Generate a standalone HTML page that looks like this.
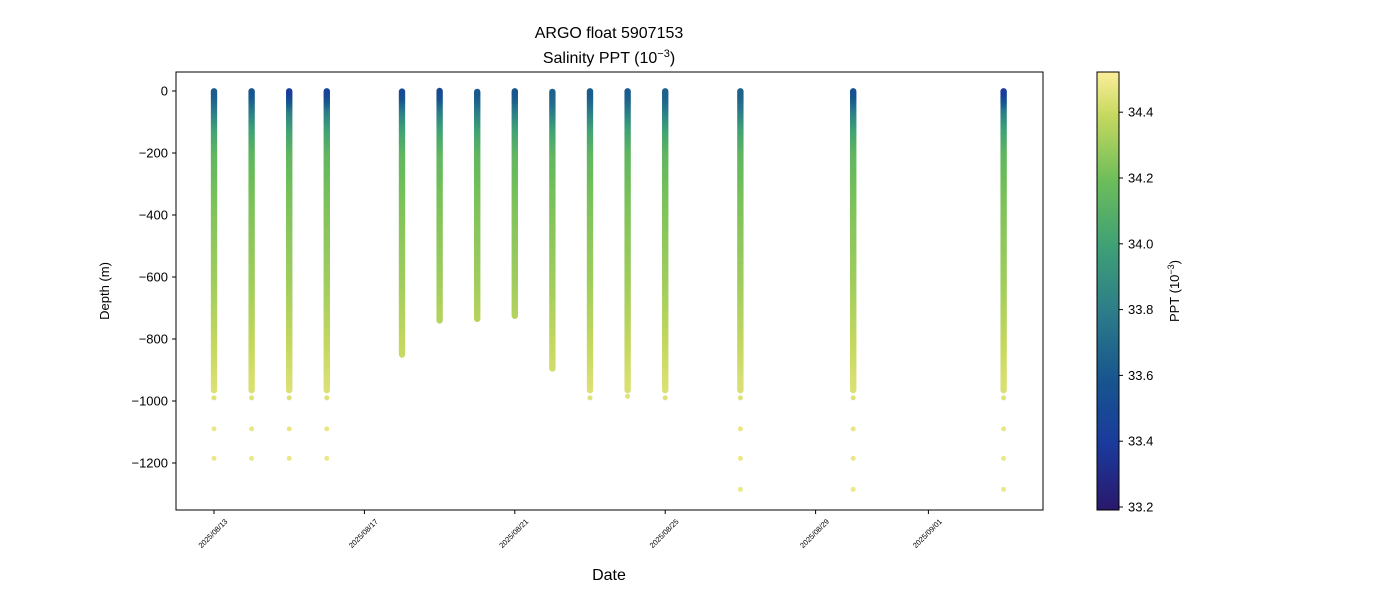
<!DOCTYPE html>
<html><head><meta charset="utf-8"><style>
body{margin:0;background:#fff;font-family:"Liberation Sans",sans-serif}
svg text{font-family:"Liberation Sans",sans-serif}
</style></head><body>
<svg id="chart" width="1400" height="600" xmlns="http://www.w3.org/2000/svg">
<defs><linearGradient id="cb" x1="0" y1="1" x2="0" y2="0">
<stop offset="0" stop-color="#2a186c"/><stop offset="0.15" stop-color="#1a3a9c"/><stop offset="0.3" stop-color="#17568e"/><stop offset="0.45" stop-color="#2c7c89"/><stop offset="0.6" stop-color="#3ea076"/><stop offset="0.75" stop-color="#6cbd5a"/><stop offset="0.9" stop-color="#c5d85f"/><stop offset="1" stop-color="#fdee99"/></linearGradient></defs>
<g id="marks"></g>
<rect x="176" y="72" width="867" height="438" fill="none" stroke="#000" stroke-width="1"/>
<g id="axes"></g>
<text x="609" y="38" font-size="16" text-anchor="middle">ARGO float 5907153</text>
<text x="609" y="63" font-size="16" text-anchor="middle">Salinity PPT (10<tspan dy="-6" font-size="11">−3</tspan><tspan dy="6">)</tspan></text>
<text transform="translate(109,291) rotate(-90)" font-size="13" text-anchor="middle">Depth (m)</text>
<text x="609" y="580" font-size="16" text-anchor="middle">Date</text>
<rect x="1097" y="72" width="22" height="438" fill="url(#cb)" stroke="#000"/>
<g id="cbaxis"></g>
<text transform="translate(1179,291) rotate(-90)" font-size="13" text-anchor="middle">PPT (10<tspan dy="-5" font-size="9">−3</tspan><tspan dy="5">)</tspan></text>
</svg>
<script>
const profileDays=[0,1,2,3,5,6,7,8,9,10,11,12,14,17,21];
const profileMaxDepth=[965,965,965,965,850,740,735,725,895,965,965,965,965,965,965];
const profileSurface=[33.62,33.58,33.4,33.45,33.5,33.5,33.6,33.58,33.65,33.62,33.62,33.65,33.65,33.55,33.4];
const deepPoints=[[990,1090,1185],[990,1090,1185],[990,1090,1185],[990,1090,1185],[],[],[],[],[],[990],[985],[990],[990,1090,1185,1285],[990,1090,1185,1285],[990,1090,1185,1285]];
const refDepth=[0,20,50,80,120,200,300,400,500,600,700,800,900,1000,1100,1200,1300];
const refSal=[33.62,33.65,33.75,33.86,34.0,34.14,34.2,34.24,34.27,34.3,34.34,34.38,34.42,34.45,34.48,34.48,34.48];
const yTicks=[0,-200,-400,-600,-800,-1000,-1200];
const xTickDays=[0,4,8,12,16,19];
const xTickLabels=["2025/08/13","2025/08/17","2025/08/21","2025/08/25","2025/08/29","2025/09/01"];
const cbTicks=[33.2,33.4,33.6,33.8,34.0,34.2,34.4];
const NS="http://www.w3.org/2000/svg";
const X=d=>214+d*37.6, Y=v=>91-v*0.31, CB=v=>507-(v-33.2)*329;
const stops=[[0,[42,24,108]],[0.15,[26,58,156]],[0.3,[23,86,142]],[0.45,[44,124,137]],[0.6,[62,160,118]],[0.75,[108,189,90]],[0.9,[197,216,95]],[1,[253,238,153]]];
function col(s){let t=(s-33.19)/(34.52-33.19);t=Math.max(0,Math.min(1,t));
for(let i=1;i<stops.length;i++){if(t<=stops[i][0]){const a=stops[i-1],b=stops[i],f=(t-a[0])/(b[0]-a[0]);
return "rgb("+a[1].map((c,k)=>Math.round(c+(b[1][k]-c)*f)).join(",")+")";}}return "rgb(253,238,153)";}
function sal(d,surf){for(let i=1;i<refDepth.length;i++){if(d<=refDepth[i]){const f=(d-refDepth[i-1])/(refDepth[i]-refDepth[i-1]);let s=refSal[i-1]+(refSal[i]-refSal[i-1])*f;
const w=Math.max(0,1-d/60);return s+(surf-refSal[0])*w;}}return refSal[refSal.length-1];}
const marks=document.getElementById('marks');
function dot(x,y,r,c){const e=document.createElementNS(NS,'circle');e.setAttribute('cx',x);e.setAttribute('cy',y);e.setAttribute('r',r);e.setAttribute('fill',c);


marks.appendChild(e);}
profileDays.forEach((day,i)=>{
  for(let d=profileMaxDepth[i];d>=0;d-=4){dot(X(day),Y(-d),3.2,col(sal(d,profileSurface[i])));}
  deepPoints[i].forEach(d=>dot(X(day),Y(-d),2.5,col(sal(d,profileSurface[i]))));
});
const ax=document.getElementById('axes');
function el(tag,attrs,txt){const e=document.createElementNS(NS,tag);for(const k in attrs)e.setAttribute(k,attrs[k]);if(txt!==undefined)e.textContent=txt;return e;}
yTicks.forEach(v=>{const g=el('g',{});


g.appendChild(el('line',{x1:172,x2:176,y1:Y(v),y2:Y(v),stroke:'#000'}));
g.appendChild(el('text',{x:168,y:Y(v)+4.5,'font-size':13,'text-anchor':'end'},v===0?'0':'−'+Math.abs(v)));ax.appendChild(g);});
xTickDays.forEach((d,i)=>{const g=el('g',{});


g.appendChild(el('line',{x1:X(d),x2:X(d),y1:510,y2:514,stroke:'#000'}));
g.appendChild(el('text',{transform:`translate(${X(d)+14},${522}) rotate(-45)`,'font-size':7.5,'text-anchor':'end'},xTickLabels[i]));ax.appendChild(g);});
const cba=document.getElementById('cbaxis');
cbTicks.forEach(v=>{const g=el('g',{});


g.appendChild(el('line',{x1:1119,x2:1123,y1:CB(v),y2:CB(v),stroke:'#000'}));
g.appendChild(el('text',{x:1128,y:CB(v)+4.5,'font-size':13},v.toFixed(1)));cba.appendChild(g);});
</script>
</body></html>
